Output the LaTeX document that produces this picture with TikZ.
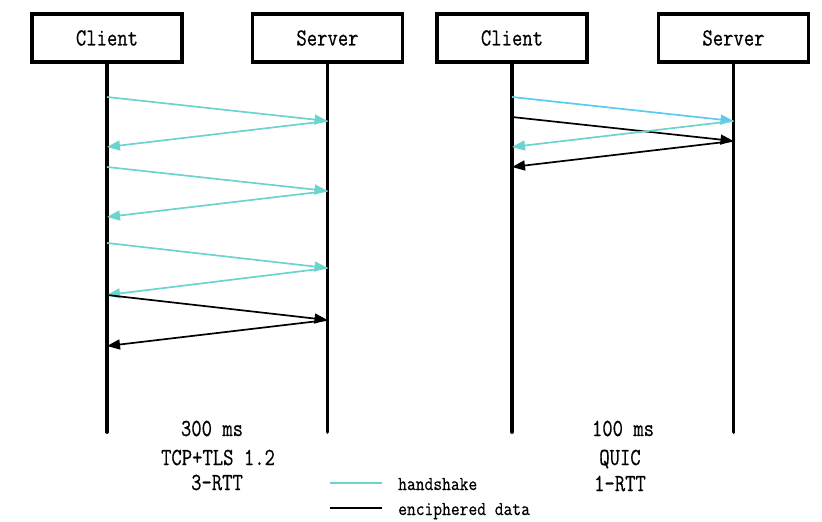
\documentclass[tikz,border=0pt]{standalone}
\usepackage{fontspec}
\usepackage{graphicx}
\usetikzlibrary{arrows.meta}
\newfontfamily\diagfont[FakeBold=0.6]{Latin Modern Mono}
\newcommand{\slim}[1]{\scalebox{0.82}[1]{#1}}
\newcommand{\slimkey}[1]{\scalebox{0.87}[1]{#1}}
\definecolor{shake}{RGB}{108,212,206}
\definecolor{shakeblue}{RGB}{92,203,240}

\begin{document}
\begin{tikzpicture}
  [
  x=1pt,y=-1pt,
  party/.style={rectangle,draw,line width=3.8pt,minimum width=150pt,minimum height=48pt,inner sep=0pt,font=\fontsize{24.5}{28}\diagfont},
  life/.style={line width=3.8pt,line cap=round},
  msg/.style={line width=1.7pt,-{Triangle[length=13pt,width=10pt]}},
  hand/.style={msg,shake},
  data/.style={msg,black},
  caption/.style={anchor=base,inner sep=0pt,font=\fontsize{24.5}{28}\diagfont},
  key/.style={anchor=base west,inner sep=0pt,font=\fontsize{19.6}{23}\diagfont}
  ]
  \useasboundingbox (0,0) rectangle (822,522);

  \node (c1) at (107,38) [party] {\slim{Client}};
  \node (s1) at (327.5,38) [party] {\slim{Server}};
  \node (c2) at (512,38) [party] {\slim{Client}};
  \node (s2) at (733.5,38) [party] {\slim{Server}};

  \coordinate (c1end) at (107,432);
  \coordinate (s1end) at (327.5,432);
  \coordinate (c2end) at (512,432);
  \coordinate (s2end) at (733.5,432);
  \draw [life] (c1) to (c1end);
  \draw [life] (s1) to (s1end);
  \draw [life] (c2) to (c2end);
  \draw [life] (s2) to (s2end);

  % TCP+TLS
  \coordinate (ca) at (107,97);
  \coordinate (sa) at (327.5,121);
  \coordinate (cb) at (107,147);
  \coordinate (cc) at (107,167);
  \coordinate (sb) at (327.5,191);
  \coordinate (cd) at (107,217);
  \coordinate (ce) at (107,243);
  \coordinate (sc) at (327.5,268);
  \coordinate (cf) at (107,295);
  \coordinate (sd) at (327.5,320);
  \coordinate (cg) at (107,346);

  \draw [hand] (ca) to (sa);
  \draw [hand] (sa) to (cb);
  \draw [hand] (cc) to (sb);
  \draw [hand] (sb) to (cd);
  \draw [hand] (ce) to (sc);
  \draw [hand] (sc) to (cf);
  \draw [data] (cf) to (sd);
  \draw [data] (sd) to (cg);

  % QUIC
  \coordinate (qa) at (512,97);
  \coordinate (ra) at (733.5,121);
  \coordinate (qb) at (512,117);
  \coordinate (rb) at (733.5,141);
  \coordinate (qc) at (512,147);
  \coordinate (qd) at (512,167);

  \draw [hand,shakeblue] (qa) to (ra);
  \draw [data] (qb) to (rb);
  \draw [hand] (ra) to (qc);
  \draw [data] (rb) to (qd);

  \node (t1) at (212,436) [caption] {\slim{300 ms}};
  \node (p1) at (218,465) [caption] {\slim{TCP+TLS 1.2}};
  \node (r1) at (217,490) [caption] {\slim{3-RTT}};
  \node (t2) at (623,436) [caption] {\slim{100 ms}};
  \node (p2) at (620,465) [caption] {\slim{QUIC}};
  \node (r2) at (620,491) [caption] {\slim{1-RTT}};

  % legend
  \coordinate (ka) at (330,483);
  \coordinate (kb) at (382,483);
  \coordinate (kc) at (330,508);
  \coordinate (kd) at (382,508);
  \draw [line width=2pt,shake] (ka) to (kb);
  \draw [line width=2.5pt] (kc) to (kd);
  \node (kh) at (398,490) [key] {\slimkey{handshake}};
  \node (ke) at (398,515) [key] {\slimkey{enciphered data}};
\end{tikzpicture}
\end{document}
